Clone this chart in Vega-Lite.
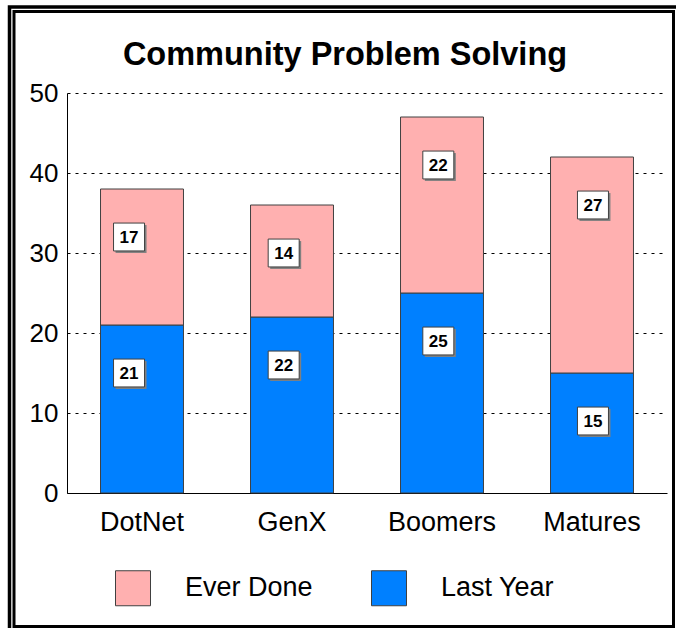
{
  "$schema": "https://vega.github.io/schema/vega-lite/v6.json",
  "width": 600,
  "height": 400,
  "autosize": {"type": "none"},
  "padding": {"left": 67, "top": 93, "right": 9, "bottom": 135},
  "background": "white",
  "config": {"font": "Liberation Sans", "view": {"stroke": null}},
  "title": {"text": "Community Problem Solving", "fontSize": 32.5, "fontWeight": "bold", "font": "Liberation Sans", "color": "black", "anchor": "middle", "frame": "group", "baseline": "alphabetic", "dx": -22, "offset": 0, "dy": 92},
  "data": {"values": [
    {"group": "DotNet", "series": "Last Year", "value": 21},
    {"group": "DotNet", "series": "Ever Done", "value": 17},
    {"group": "GenX", "series": "Last Year", "value": 22},
    {"group": "GenX", "series": "Ever Done", "value": 14},
    {"group": "Boomers", "series": "Last Year", "value": 25},
    {"group": "Boomers", "series": "Ever Done", "value": 22},
    {"group": "Matures", "series": "Last Year", "value": 15},
    {"group": "Matures", "series": "Ever Done", "value": 27}
  ]},
  "resolve": {"scale": {"x": "independent"}},
  "layer": [
    {
      "mark": {"type": "bar", "stroke": "#404040", "strokeWidth": 1},
      "encoding": {
        "x": {"field": "group", "type": "nominal", "sort": ["DotNet", "GenX", "Boomers", "Matures"],
              "scale": {"paddingInner": 0.447, "paddingOuter": 0.2235},
              "axis": {"title": null, "labelAngle": 0, "ticks": false, "domainColor": "black", "domainWidth": 1, "labelFontSize": 27, "labelColor": "black", "labelPadding": 16, "grid": false, "labelFont": "Liberation Sans"}},
        "y": {"field": "value", "type": "quantitative", "stack": "zero",
              "scale": {"domain": [0, 50], "nice": false},
              "axis": {"values": [0, 10, 20, 30, 40, 50], "title": null, "grid": true, "gridDash": [3, 5], "gridColor": "black", "gridWidth": 1, "gridOpacity": 1, "ticks": false, "domainColor": "black", "domainWidth": 1, "labelFontSize": 26, "labelColor": "black", "labelPadding": 9, "labelFont": "Liberation Sans"}},
        "color": {"field": "series", "type": "nominal",
                  "scale": {"domain": ["Ever Done", "Last Year"], "range": ["#FFB0B0", "#0080FF"]},
                  "legend": {"title": null, "orient": "none", "legendX": 48, "legendY": 477, "direction": "horizontal", "symbolType": "square", "symbolSize": 1225, "symbolStrokeColor": "#404040", "symbolStrokeWidth": 1, "symbolOpacity": 1, "labelFontSize": 27, "labelColor": "black", "labelFont": "Liberation Sans", "labelOffset": 34, "columnPadding": 56}},
        "order": {"field": "series", "sort": "descending"}
      }
    },
    {
      "encoding": {
        "x": {"field": "group", "type": "nominal", "sort": ["DotNet", "GenX", "Boomers", "Matures"], "scale": {"type": "point", "padding": 0.44}, "axis": null},
        "y": {"field": "value", "type": "quantitative", "stack": "zero"},
        "detail": {"field": "series"},
        "order": {"field": "series", "sort": "descending"}
      },
      "layer": [
        {"mark": {"type": "point", "shape": "M-1,-0.9H1V0.9H-1Z", "size": 961, "filled": true, "fill": "#808080", "opacity": 1, "strokeWidth": 0, "xOffset": -4, "yOffset": 50}},
        {"mark": {"type": "point", "shape": "M-1,-0.9H1V0.9H-1Z", "size": 961, "filled": true, "fill": "white", "stroke": "#404040", "strokeWidth": 1, "opacity": 1, "xOffset": -6, "yOffset": 48}},
        {"mark": {"type": "text", "fontSize": 17, "fontWeight": "bold", "color": "black", "align": "center", "baseline": "middle", "xOffset": -6, "yOffset": 49, "font": "Liberation Sans"},
         "encoding": {"text": {"field": "value", "type": "quantitative"}}}
      ]
    },
    {
      "data": {"values": [{}]},
      "layer": [
        {"mark": {"type": "rect", "fill": null, "filled": false, "stroke": "black", "strokeWidth": 3.5},
         "encoding": {
           "x": {"datum": -57.5, "type": "quantitative", "scale": {"domain": [0, 600], "nice": false, "zero": false}, "axis": null},
           "x2": {"datum": 640},
           "y": {"datum": 60.75, "type": "quantitative"},
           "y2": {"datum": -19.5}
         }},
        {"mark": {"type": "rect", "fill": null, "filled": false, "stroke": "black", "strokeWidth": 3},
         "encoding": {
           "x": {"datum": -53, "type": "quantitative", "axis": null},
           "x2": {"datum": 606.5},
           "y": {"datum": 60.19, "type": "quantitative"},
           "y2": {"datum": -16.69}
         }}
      ]
    }
  ]
}
